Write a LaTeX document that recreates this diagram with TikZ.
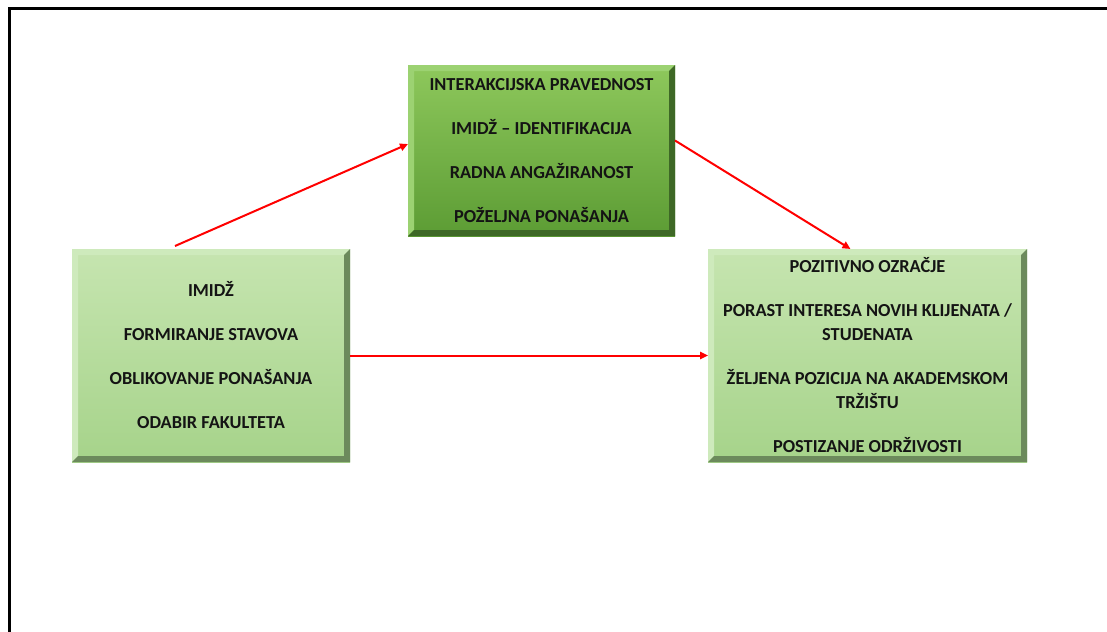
\documentclass[tikz,border=0pt]{standalone}
\usepackage{fontspec}
\setmainfont{Carlito}
\usetikzlibrary{arrows.meta}
\definecolor{tgTop}{RGB}{142,200,92}
\definecolor{tgBot}{RGB}{92,156,52}
\definecolor{tgDark}{RGB}{62,104,38}
\definecolor{tgLight}{RGB}{156,210,114}
\definecolor{lgTop}{RGB}{198,229,176}
\definecolor{lgBot}{RGB}{166,211,138}
\definecolor{lgDark}{RGB}{108,138,92}
\definecolor{lgLight}{RGB}{206,234,188}
\definecolor{txt}{RGB}{20,20,20}
\tikzset{
  boxbase/.style={rectangle, inner sep=0pt, outer sep=0pt, align=center,
    font=\fontsize{13.75}{18}\selectfont\bfseries, text=txt},
  topbox/.style={boxbase, top color=tgTop, bottom color=tgBot,
    minimum width=200.25pt, minimum height=128.25pt},
  sidebox/.style={boxbase, top color=lgTop, bottom color=lgBot,
    minimum height=159.75pt},
  arr/.style={draw=red, line width=1.5pt, -{Triangle[length=6pt,width=5.5pt]}},
  frameline/.style={draw=black, line width=2.4pt}
}
\newcommand\bevelit[3]{%
  \fill[#3] (#1.north west) -- (#1.north east) -- ([shift={(-6,6)}]#1.north east)
    -- ([shift={(6,6)}]#1.north west) -- ([shift={(6,-6)}]#1.south west)
    -- (#1.south west) -- cycle;
  \fill[#2] (#1.north east) -- (#1.south east) -- (#1.south west)
    -- ([shift={(6,-6)}]#1.south west) -- ([shift={(-6,-6)}]#1.south east)
    -- ([shift={(-6,6)}]#1.north east) -- cycle;
}
\begin{document}
\begin{tikzpicture}[x=0.75pt,y=-0.75pt]
\useasboundingbox (0,0) rectangle (1107,632);
\fill[white] (0,0) rectangle (1107,632);
\draw[frameline] (9.5,632) -- (9.5,8.5) -- (1107,8.5);

\node[topbox] (T) at (541.5,150.5) {INTERAKCIJSKA PRAVEDNOST\\[15pt]IMIDŽ – IDENTIFIKACIJA\\[15pt]RADNA ANGAŽIRANOST\\[15pt]POŽELJNA PONAŠANJA};
\bevelit{T}{tgDark}{tgLight}

\node[sidebox, minimum width=208.5pt] (L) at (211,355.5) {IMIDŽ\\[15pt]FORMIRANJE STAVOVA\\[15pt]OBLIKOVANJE PONAŠANJA\\[15pt]ODABIR FAKULTETA};
\bevelit{L}{lgDark}{lgLight}

\node[sidebox, minimum width=239.25pt] (R) at (867.5,355.5) {POZITIVNO OZRAČJE\\[15pt]PORAST INTERESA NOVIH KLIJENATA /\\STUDENATA\\[15pt]ŽELJENA POZICIJA NA AKADEMSKOM\\TRŽIŠTU\\[15pt]POSTIZANJE ODRŽIVOSTI};
\bevelit{R}{lgDark}{lgLight}

\draw[arr] ([shift={(103,-3)}]L.north west) -- ([shift={(0,-6.5)}]T.west);
\draw[arr] ([shift={(0,-10)}]T.east) -- ([shift={(-17,0)}]R.north);
\draw[arr] (L.east) -- (R.west);
\end{tikzpicture}
\end{document}
